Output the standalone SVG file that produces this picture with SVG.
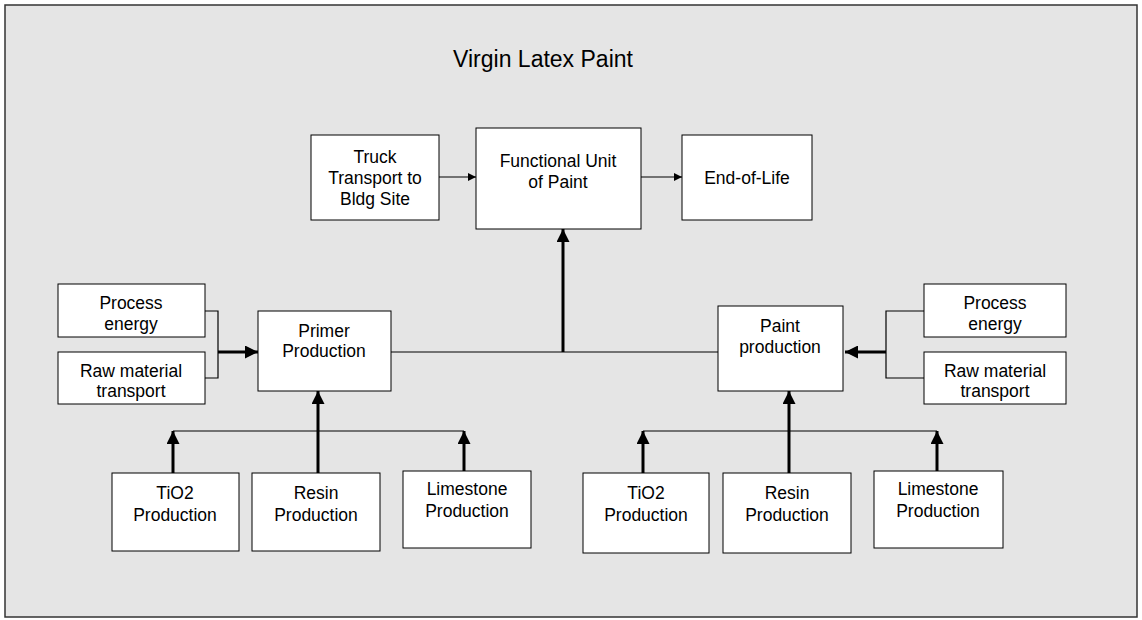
<svg xmlns="http://www.w3.org/2000/svg" width="1142" height="620" viewBox="0 0 1142 620">
<defs>
<marker id="a" viewBox="0 0 10 10" refX="10" refY="5" markerWidth="8" markerHeight="8" markerUnits="userSpaceOnUse" orient="auto"><path d="M0,0 L10,5 L0,10 z" fill="#000"/></marker>
<marker id="b" viewBox="0 0 10 10" refX="10" refY="5" markerWidth="13" markerHeight="13" markerUnits="userSpaceOnUse" orient="auto"><path d="M0,0 L10,5 L0,10 z" fill="#000"/></marker>
</defs>
<style>
.box{fill:#fff;stroke:#000;stroke-width:1}
text{font-family:"Liberation Sans",Arial,sans-serif;font-size:17.5px;fill:#000;text-anchor:middle}
.t{font-size:23px}
.thin{stroke:#000;stroke-width:1.2;fill:none}
.thick{stroke:#000;stroke-width:3;fill:none}
</style>
<rect x="5" y="5" width="1132" height="612" fill="#e5e5e5" stroke="#333" stroke-width="1.5"/>
<text class="t" x="543" y="67">Virgin Latex Paint</text>
<g id="connectors">
<line class="thin" x1="439" y1="177" x2="476" y2="177" marker-end="url(#a)"/>
<line class="thin" x1="641" y1="177" x2="682" y2="177" marker-end="url(#a)"/>
<line class="thin" x1="391" y1="352" x2="718" y2="352"/>
<line class="thick" x1="563" y1="352" x2="563" y2="229" marker-end="url(#b)"/>
<polyline class="thin" points="205,311 218,311 218,378 205,378"/>
<line class="thick" x1="218" y1="352" x2="258" y2="352" marker-end="url(#b)"/>
<polyline class="thin" points="924,311 886,311 886,378 924,378"/>
<line class="thick" x1="886" y1="352" x2="845" y2="352" marker-end="url(#b)"/>
<line class="thin" x1="173" y1="431" x2="464" y2="431"/>
<line class="thick" x1="173" y1="473" x2="173" y2="431" marker-end="url(#b)"/>
<line class="thick" x1="464" y1="471" x2="464" y2="431" marker-end="url(#b)"/>
<line class="thick" x1="318" y1="473" x2="318" y2="391" marker-end="url(#b)"/>
<line class="thin" x1="643" y1="431" x2="937" y2="431"/>
<line class="thick" x1="643" y1="473" x2="643" y2="431" marker-end="url(#b)"/>
<line class="thick" x1="937" y1="471" x2="937" y2="431" marker-end="url(#b)"/>
<line class="thick" x1="789" y1="473" x2="789" y2="391" marker-end="url(#b)"/>
</g>
<g id="truck"><rect class="box" x="311" y="135" width="128" height="85"/><text x="375" y="163">Truck</text><text x="375" y="184">Transport to</text><text x="375" y="205">Bldg Site</text></g>
<g id="functional"><rect class="box" x="476" y="128" width="165" height="101"/><text x="558" y="167">Functional Unit</text><text x="558" y="188">of Paint</text></g>
<g id="eol"><rect class="box" x="682" y="135" width="130" height="85"/><text x="747" y="184">End-of-Life</text></g>
<g id="pe-left"><rect class="box" x="58" y="284" width="147" height="53"/><text x="131" y="309">Process</text><text x="131" y="330">energy</text></g>
<g id="rm-left"><rect class="box" x="58" y="352" width="147" height="52"/><text x="131" y="377">Raw material</text><text x="131" y="397">transport</text></g>
<g id="primer"><rect class="box" x="258" y="311" width="133" height="80"/><text x="324" y="337">Primer</text><text x="324" y="357">Production</text></g>
<g id="paint"><rect class="box" x="718" y="306" width="125" height="85"/><text x="780" y="332">Paint</text><text x="780" y="353">production</text></g>
<g id="pe-right"><rect class="box" x="924" y="284" width="142" height="53"/><text x="995" y="309">Process</text><text x="995" y="330">energy</text></g>
<g id="rm-right"><rect class="box" x="924" y="352" width="142" height="52"/><text x="995" y="377">Raw material</text><text x="995" y="397">transport</text></g>
<g id="tio2-left"><rect class="box" x="112" y="473" width="127" height="78"/><text x="175" y="499">TiO2</text><text x="175" y="521">Production</text></g>
<g id="resin-left"><rect class="box" x="252" y="473" width="128" height="78"/><text x="316" y="499">Resin</text><text x="316" y="521">Production</text></g>
<g id="lime-left"><rect class="box" x="403" y="471" width="128" height="77"/><text x="467" y="495">Limestone</text><text x="467" y="517">Production</text></g>
<g id="tio2-right"><rect class="box" x="583" y="473" width="126" height="80"/><text x="646" y="499">TiO2</text><text x="646" y="521">Production</text></g>
<g id="resin-right"><rect class="box" x="723" y="473" width="128" height="80"/><text x="787" y="499">Resin</text><text x="787" y="521">Production</text></g>
<g id="lime-right"><rect class="box" x="874" y="471" width="129" height="77"/><text x="938" y="495">Limestone</text><text x="938" y="517">Production</text></g>
</svg>
